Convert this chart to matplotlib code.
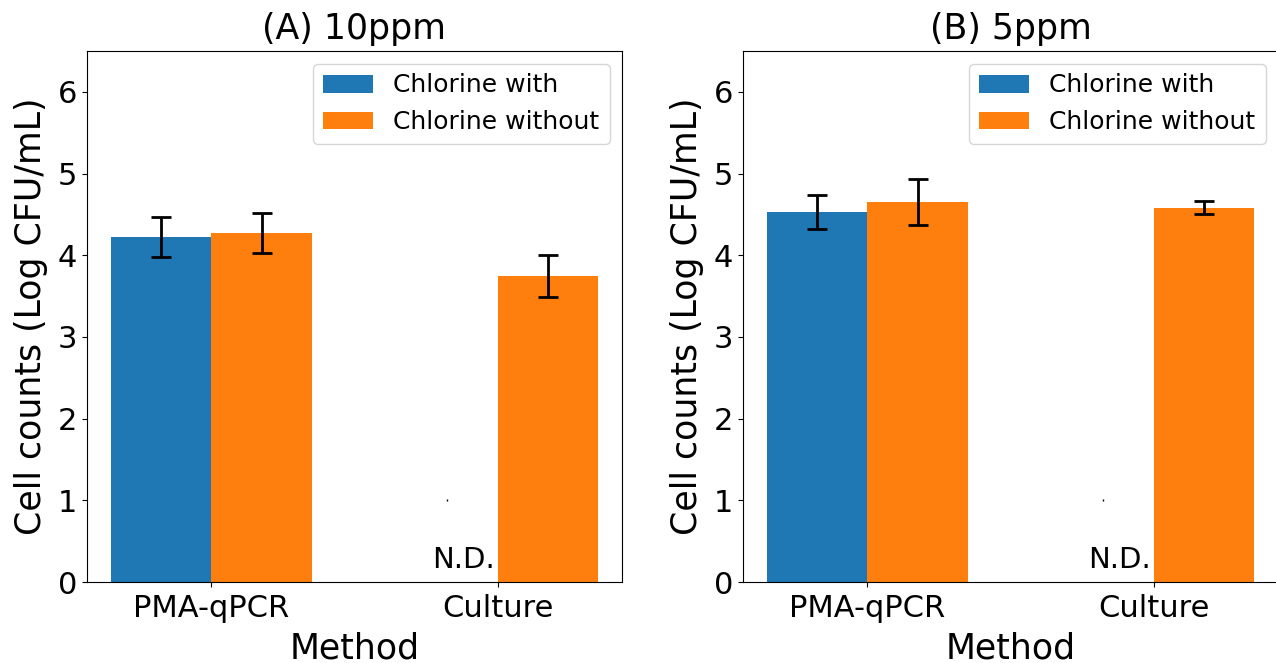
import matplotlib
matplotlib.use("Agg")
import matplotlib.pyplot as plt
import numpy as np

methods = ["PMA-qPCR", "Culture"]
series_labels = ["Chlorine with", "Chlorine without"]
panel_titles = ["(A) 10ppm", "(B) 5ppm"]

# panel A (10 ppm); culture "with" was not detected
a_with = [4.22, 0.0]
a_with_err = [0.245, np.nan]
a_without = [4.27, 3.745]
a_without_err = [0.245, 0.26]

# panel B (5 ppm)
b_with = [4.53, 0.0]
b_with_err = [0.21, np.nan]
b_without = [4.65, 4.58]
b_without_err = [0.28, 0.08]

# stray marker drawn at the N.D. position in the original
nd_marker_y = 1.0

panels = [
    (a_with, a_with_err, a_without, a_without_err),
    (b_with, b_with_err, b_without, b_without_err),
]

fig = plt.figure(figsize=(12.76, 6.63), dpi=100)
ax_positions = [
    [87 / 1276, 81 / 663, 535 / 1276, 531 / 663],
    [743 / 1276, 81 / 663, 535 / 1276, 531 / 663],
]

width = 0.35
x = np.arange(len(methods))

for pos, title, (w, werr, wo, woerr) in zip(ax_positions, panel_titles, panels):
    ax = fig.add_axes(pos)
    ax.bar(x - width / 2, w, width, yerr=werr, capsize=7, color="#1f77b4",
           label=series_labels[0], error_kw={"elinewidth": 2, "capthick": 2})
    ax.bar(x + width / 2, wo, width, yerr=woerr, capsize=7, color="#ff7f0e",
           label=series_labels[1], error_kw={"elinewidth": 2, "capthick": 2})
    ax.plot([x[1] - width / 2], [nd_marker_y], marker="|", ms=2, mew=1, color="black")
    ax.text(x[1] - 0.01, 0.1, "N.D.", ha="right", va="bottom", fontsize=21)
    ax.set_ylim(0, 6.5)
    ax.set_xticks(x)
    ax.set_xticklabels(methods)
    ax.tick_params(labelsize=22)
    ax.tick_params(axis="x", pad=5)
    ax.set_xlabel("Method", fontsize=25, labelpad=6)
    ax.set_ylabel("Cell counts (Log CFU/mL)", fontsize=25, labelpad=7)
    ax.set_title(title, fontsize=25, pad=9)
    ax.legend(loc="upper right", fontsize=18)

fig.savefig("out.png", dpi=100)
plt.close(fig)
